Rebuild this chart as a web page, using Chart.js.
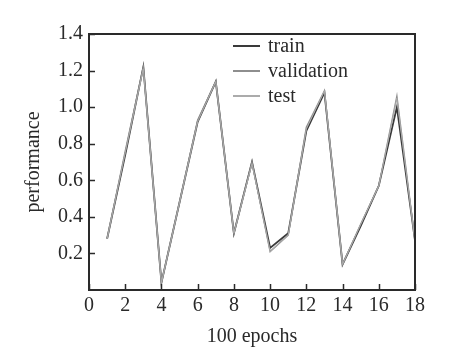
<!DOCTYPE html>
<html>
<head>
<meta charset="utf-8">
<script src="https://cdn.jsdelivr.net/npm/chart.js@4.4.1/dist/chart.umd.min.js"></script>
<style>
  html, body { margin: 0; padding: 0; background: #fff; }
  #wrap { width: 450px; height: 357px; }
</style>
</head>
<body>
<div id="wrap"><canvas id="c" width="450" height="357"></canvas></div>
<script>
const epochs = [1, 2, 3, 4, 5, 6, 7, 8, 9, 10, 11, 12, 13, 14, 15, 16, 17, 18];
const train = [0.28, 0.74, 1.22, 0.04, 0.48, 0.92, 1.14, 0.31, 0.70, 0.23, 0.31, 0.87, 1.08, 0.14, 0.35, 0.57, 1.00, 0.27];
const validation = [0.28, 0.76, 1.22, 0.04, 0.48, 0.93, 1.14, 0.31, 0.70, 0.21, 0.30, 0.89, 1.09, 0.14, 0.36, 0.57, 1.06, 0.27];
const test = [0.28, 0.75, 1.21, 0.04, 0.48, 0.92, 1.14, 0.31, 0.69, 0.21, 0.30, 0.88, 1.09, 0.14, 0.36, 0.57, 1.05, 0.27];
const seriesNames = ['train', 'validation', 'test'];
const xTicks = [0, 2, 4, 6, 8, 10, 12, 14, 16, 18];
const yTicks = [0.2, 0.4, 0.6, 0.8, 1.0, 1.2, 1.4];

const FONT = "'Liberation Serif', 'DejaVu Serif', serif";
const colors = ['#3a3a3a', '#8e8e8e', '#ababab'];

function pts(arr) { return epochs.map((e, i) => ({ x: e, y: arr[i] })); }

const boxPlugin = {
  id: 'boxAndTicks',
  afterDraw(chart) {
    const { ctx, chartArea: a, scales } = chart;
    ctx.save();
    ctx.strokeStyle = '#2a2a2a';
    ctx.lineWidth = 1.5;
    ctx.beginPath();
    xTicks.forEach(v => {
      const x = Math.round(scales.x.getPixelForValue(v)) + 0.5;
      ctx.moveTo(x, a.bottom);
      ctx.lineTo(x, a.bottom - 6);
    });
    yTicks.forEach(v => {
      const y = Math.round(scales.y.getPixelForValue(v)) + 0.5;
      ctx.moveTo(a.left, y);
      ctx.lineTo(a.left + 6, y);
    });
    ctx.stroke();
    ctx.lineWidth = 2;
    ctx.strokeStyle = '#2a2a2a';
    ctx.strokeRect(a.left, a.top, a.right - a.left, a.bottom - a.top);
    ctx.font = "20px " + FONT;
    ctx.textBaseline = 'middle';
    ctx.textAlign = 'left';
    const ys = [46, 71, 96];
    chart.data.datasets.forEach((ds, i) => {
      ctx.strokeStyle = ds.borderColor;
      ctx.lineWidth = 2;
      ctx.beginPath();
      ctx.moveTo(233, ys[i]);
      ctx.lineTo(260, ys[i]);
      ctx.stroke();
      ctx.fillStyle = '#2a2a2a';
      ctx.fillText(ds.label, 268, ys[i] + 1);
    });
    ctx.restore();
  }
};

new Chart(document.getElementById('c'), {
  type: 'line',
  data: {
    datasets: [
      { label: seriesNames[0], data: pts(train), borderColor: colors[0], borderWidth: 1.8, order: 3 },
      { label: seriesNames[1], data: pts(validation), borderColor: colors[1], borderWidth: 1.4, order: 2 },
      { label: seriesNames[2], data: pts(test), borderColor: colors[2], borderWidth: 1.0, order: 1 }
    ]
  },
  options: {
    responsive: false,
    animation: false,
    devicePixelRatio: 1,
    layout: { padding: { left: 0, right: 35, top: 34, bottom: 0 } },
    elements: { point: { radius: 0 }, line: { tension: 0, fill: false } },
    plugins: { legend: { display: false }, tooltip: { enabled: false } },
    scales: {
      x: {
        type: 'linear',
        min: 0, max: 18,
        afterBuildTicks: s => { s.ticks = xTicks.map(v => ({ value: v })); },
        ticks: { color: '#2a2a2a', font: { family: FONT, size: 20 }, padding: 4, maxRotation: 0, autoSkip: false },
        grid: { display: false, drawTicks: false },
        border: { display: false },
        title: { display: true, text: '100 epochs', color: '#2a2a2a', font: { family: FONT, size: 20 }, padding: { top: 0, bottom: 8 } },
        afterFit: s => { s.height = 67; }
      },
      y: {
        min: 0, max: 1.4,
        afterBuildTicks: s => { s.ticks = yTicks.map(v => ({ value: v })); },
        ticks: { color: '#2a2a2a', font: { family: FONT, size: 20 }, padding: 6, callback: v => v.toFixed(1) },
        grid: { display: false, drawTicks: false },
        border: { display: false },
        title: { display: true, text: 'performance', color: '#2a2a2a', font: { family: FONT, size: 20 }, padding: { top: 22, bottom: 0 } },
        afterFit: s => { s.width = 89; }
      }
    }
  },
  plugins: [boxPlugin]
});
</script>
</body>
</html>
